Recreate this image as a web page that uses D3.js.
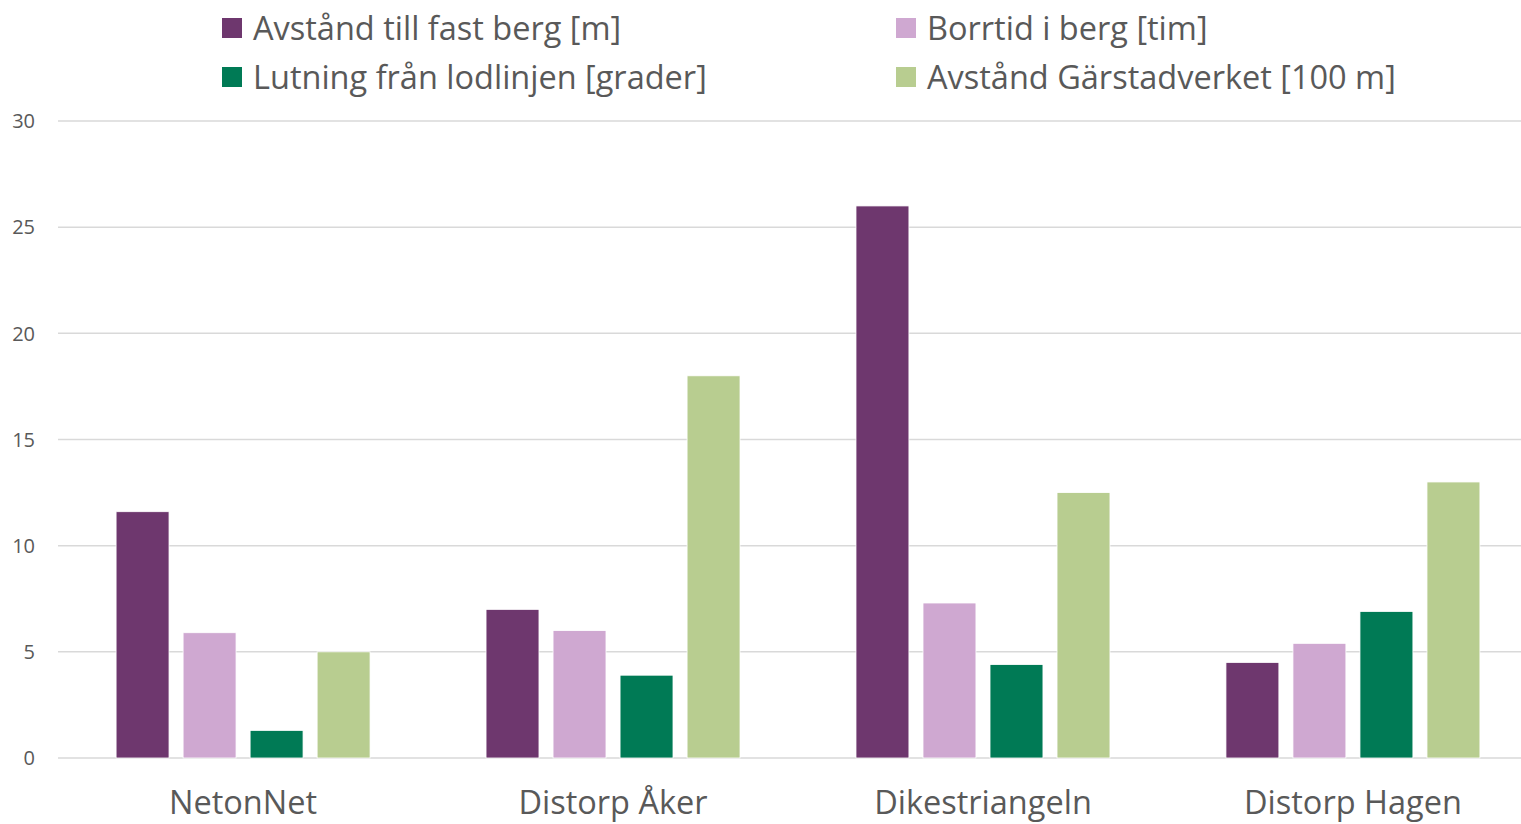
<!DOCTYPE html>
<html>
<head>
<meta charset="utf-8">
<script src="https://cdn.jsdelivr.net/npm/d3@7"></script>
<style>
	body { margin: 0; background: #fff; }
	svg { display: block; font-family: 'Open Sans', Lato, sans-serif; }
</style>
</head>
<body>
<div id="chart"></div>
<script>
const categories = ['NetonNet', 'Distorp Åker', 'Dikestriangeln', 'Distorp Hagen']
const seriesNames = [
	'Avstånd till fast berg [m]',
	'Borrtid i berg [tim]',
	'Lutning från lodlinjen [grader]',
	'Avstånd Gärstadverket [100 m]',
]
const seriesColors = ['#6e376e', '#cfa8d1', '#007a55', '#b8cd90']
const avstandBerg = [11.6, 7, 26, 4.5]
const borrtid = [5.9, 6, 7.3, 5.4]
const lutning = [1.3, 3.9, 4.4, 6.9]
const avstandGarstad = [5, 18, 12.5, 13]
const yTicks = [0, 5, 10, 15, 20, 25, 30]

const seriesValues = [avstandBerg, borrtid, lutning, avstandGarstad]

const width = 1521
const height = 824
const margin = { top: 121, bottom: 66, left: 58 }
// plot area runs a little past the right edge of the picture
const plotRight = 1538

const svg = d3.select('#chart')
	.append('svg')
	.attr('width', width)
	.attr('height', height)

const x0 = d3.scaleBand()
	.domain(categories)
	.range([margin.left, plotRight])
	.paddingInner(0.3135)
	.paddingOuter(0.157)

const x1 = d3.scaleBand()
	.domain(d3.range(seriesNames.length))
	.range([0, x0.bandwidth()])
	.paddingInner(0.21)

const y = d3.scaleLinear()
	.domain([0, 30])
	.range([height - margin.bottom, margin.top])

// gridlines
svg.append('g')
	.selectAll('line')
	.data(yTicks)
	.join('line')
	.attr('x1', margin.left)
	.attr('x2', width)
	.attr('y1', d => y(d))
	.attr('y2', d => y(d))
	.attr('stroke', '#d9d9d9')
	.attr('stroke-width', 1.5)

// y tick labels
svg.append('g')
	.selectAll('text')
	.data(yTicks)
	.join('text')
	.attr('x', 35)
	.attr('y', d => y(d))
	.attr('dy', '0.36em')
	.attr('text-anchor', 'end')
	.attr('fill', '#595959')
	.attr('font-size', 20)
	.text(d => d)

// bars
const groups = svg.append('g')
	.selectAll('g')
	.data(categories)
	.join('g')
	.attr('transform', d => `translate(${x0(d)},0)`)

groups.selectAll('rect')
	.data((d, i) => seriesValues.map((s, j) => ({ series: j, value: s[i] })))
	.join('rect')
	.attr('x', d => x1(d.series))
	.attr('width', x1.bandwidth())
	.attr('y', d => y(d.value))
	.attr('height', d => y(0) - y(d.value))
	.attr('fill', d => seriesColors[d.series])
	.attr('stroke', '#fff')
	.attr('stroke-width', 0.8)

// category labels
svg.append('g')
	.selectAll('text')
	.data(categories)
	.join('text')
	.attr('x', d => x0(d) + x0.bandwidth() / 2)
	.attr('y', 814)
	.attr('text-anchor', 'middle')
	.attr('fill', '#595959')
	.attr('font-size', 32.5)
	.text(d => d)

// legend
const legendPos = [
	{ x: 222, y: 28 },
	{ x: 896, y: 28 },
	{ x: 222, y: 77 },
	{ x: 896, y: 77 },
]
const legend = svg.append('g')
	.selectAll('g')
	.data(seriesNames)
	.join('g')
	.attr('transform', (d, i) => `translate(${legendPos[i].x},${legendPos[i].y})`)

legend.append('rect')
	.attr('x', 0)
	.attr('y', -10)
	.attr('width', 20)
	.attr('height', 20)
	.attr('fill', (d, i) => seriesColors[i])

legend.append('text')
	.attr('x', 31)
	.attr('y', 0)
	.attr('dy', '0.36em')
	.attr('fill', '#595959')
	.attr('font-size', 32.5)
	.text(d => d)
</script>
</body>
</html>
